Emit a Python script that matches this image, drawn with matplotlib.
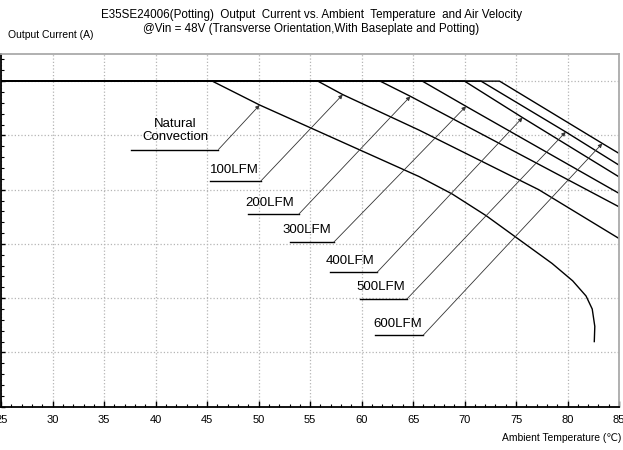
import numpy as np
import matplotlib
matplotlib.use("Agg")
import matplotlib.pyplot as plt
from matplotlib.ticker import MultipleLocator, NullFormatter

plt.rcParams["font.family"] = ["Liberation Sans", "DejaVu Sans"]

# ==========================================================
# Data
# ==========================================================

FULL_LOAD = 1.5

nat_x = [25, 45.5, 50.1, 65.6, 68.8, 72.1, 75.3, 78.5, 80.5, 81.8, 82.4, 82.65, 82.6]
nat_y = [FULL_LOAD, 1.5, 1.39, 1.06, 0.98, 0.88, 0.77, 0.66, 0.58, 0.51, 0.45, 0.37, 0.30]

lfm100_x = [25, 55.75, 58.17, 65.6, 77.2, 85]
lfm100_y = [FULL_LOAD, 1.5, 1.438, 1.274, 1.0, 0.775]

lfm200_x = [25, 61.8, 64.74, 85]
lfm200_y = [FULL_LOAD, 1.5, 1.430, 0.921]

lfm300_x = [25, 65.9, 70.14, 85]
lfm300_y = [FULL_LOAD, 1.5, 1.384, 0.983]

lfm400_x = [25, 70.0, 75.63, 85]
lfm400_y = [FULL_LOAD, 1.5, 1.332, 1.059]

lfm500_x = [25, 71.6, 79.83, 85]
lfm500_y = [FULL_LOAD, 1.5, 1.266, 1.113]

lfm600_x = [25, 73.4, 83.38, 85]
lfm600_y = [FULL_LOAD, 1.5, 1.213, 1.167]

curves = [
    (nat_x, nat_y),
    (lfm100_x, lfm100_y),
    (lfm200_x, lfm200_y),
    (lfm300_x, lfm300_y),
    (lfm400_x, lfm400_y),
    (lfm500_x, lfm500_y),
    (lfm600_x, lfm600_y),
]

labels = ["Natural\nConvection", "100LFM", "200LFM", "300LFM",
          "400LFM", "500LFM", "600LFM"]

# arrow tip on each curve (taken from the curve points above)
tips = [
    (nat_x[2], nat_y[2]),
    (lfm100_x[2], lfm100_y[2]),
    (lfm200_x[2], lfm200_y[2]),
    (lfm300_x[2], lfm300_y[2]),
    (lfm400_x[2], lfm400_y[2]),
    (lfm500_x[2], lfm500_y[2]),
    (lfm600_x[2], lfm600_y[2]),
]

# label layout: text anchor, underline start/end, underline height
label_layout = [
    # (text_x, text_y, line_x0, line_x1, line_y)
    (41.9, 1.214, 37.6, 46.1, 1.185),
    (45.25, 1.075, 45.25, 50.2, 1.039),
    (48.75, 0.924, 48.95, 53.9, 0.887),
    (52.35, 0.798, 53.0, 57.3, 0.758),
    (56.55, 0.657, 56.9, 61.5, 0.619),
    (59.45, 0.537, 59.8, 64.4, 0.496),
    (61.1, 0.366, 61.35, 66.0, 0.330),
]

# ==========================================================
# Plot
# ==========================================================

fig = plt.figure(figsize=(6.23, 4.5), dpi=100)
ax = fig.add_axes([1.2 / 623, 1 - 406.7 / 450, (619 - 1.2) / 623, (406.7 - 54) / 450])

for xs, ys in curves:
    ax.plot(xs, ys, color="black", lw=1.0, solid_joinstyle="round")

for i, lab in enumerate(labels):
    tx, ty, lx0, lx1, ly = label_layout[i]
    if i == 0:
        ax.text(tx, ty, lab, ha="center", va="bottom", fontsize=9.5,
                multialignment="center", linespacing=1.1)
    else:
        ax.text(tx, ty, lab, ha="left", va="baseline", fontsize=9.5)
    ax.plot([lx0, lx1], [ly, ly], color="black", lw=1.0)
    ax.annotate(
        "",
        xy=tips[i],
        xytext=(lx1, ly),
        arrowprops=dict(arrowstyle="-|>", color="#333333", lw=0.6,
                        mutation_scale=6, shrinkA=0, shrinkB=0),
    )

ax.set_xlim(25, 85)
ax.set_ylim(0, 1.625)

ax.xaxis.set_major_locator(MultipleLocator(5))
ax.xaxis.set_minor_locator(MultipleLocator(1))
ax.yaxis.set_major_locator(MultipleLocator(0.25))
ax.yaxis.set_minor_locator(MultipleLocator(0.05))
ax.yaxis.set_major_formatter(NullFormatter())

ax.tick_params(axis="both", which="both", direction="in", color="black")
ax.tick_params(axis="x", which="major", length=4, width=1.0, labelsize=8, pad=6)
ax.tick_params(axis="x", which="minor", length=2.5, width=0.8)
ax.tick_params(axis="y", which="major", length=3, width=1.0)
ax.tick_params(axis="y", which="minor", length=2, width=0.8)

ax.grid(True, which="major", color="#b5b5b5", linestyle=":", lw=0.9)

for side in ["left", "bottom"]:
    ax.spines[side].set_color("black")
    ax.spines[side].set_linewidth(1.3)
for side in ["top", "right"]:
    ax.spines[side].set_color("#aaaaaa")
    ax.spines[side].set_linewidth(1.3)

fig.text(0.5, 1 - 15 / 450,
         "E35SE24006(Potting)  Output  Current vs. Ambient  Temperature  and Air Velocity",
         ha="center", va="center", fontsize=8.4)
fig.text(0.5, 1 - 29 / 450,
         "@Vin = 48V (Transverse Orientation,With Baseplate and Potting)",
         ha="center", va="center", fontsize=8.4)
fig.text(8 / 623, 1 - 35 / 450, "Output Current (A)",
         ha="left", va="center", fontsize=7.5)
fig.text(621 / 623, 1 - 438 / 450, "Ambient Temperature (\u2103)",
         ha="right", va="center", fontsize=7.4)

fig.savefig("out.png", dpi=100)
